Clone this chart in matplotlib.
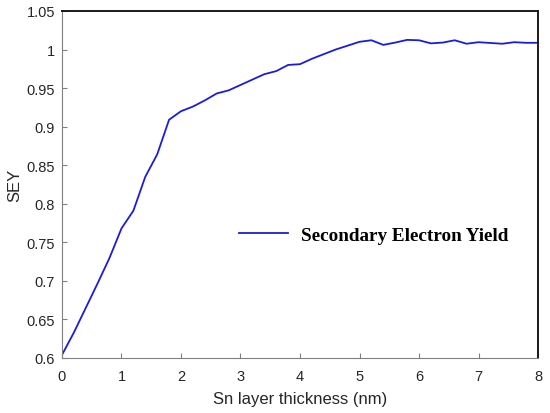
import matplotlib
matplotlib.use("Agg")
import matplotlib.pyplot as plt
import numpy as np

# Sn layer thickness (nm) and secondary electron yield
thickness = [0.0, 0.2, 0.4, 0.6, 0.8, 1.0, 1.2, 1.4, 1.6, 1.8,
             2.0, 2.2, 2.4, 2.6, 2.8, 3.0, 3.2, 3.4, 3.6, 3.8,
             4.0, 4.2, 4.4, 4.6, 4.8, 5.0, 5.2, 5.4, 5.6, 5.8,
             6.0, 6.2, 6.4, 6.6, 6.8, 7.0, 7.2, 7.4, 7.6, 7.8, 8.0]
sey = [0.604, 0.633, 0.665, 0.697, 0.730, 0.768, 0.791, 0.835, 0.864, 0.909,
       0.920, 0.926, 0.934, 0.943, 0.947, 0.954, 0.961, 0.968, 0.972, 0.980,
       0.981, 0.988, 0.994, 1.000, 1.005, 1.010, 1.012, 1.006, 1.009, 1.0125,
       1.012, 1.008, 1.009, 1.012, 1.0075, 1.0095, 1.0085, 1.0075, 1.0095, 1.0087, 1.0087]

x_ticks = [0, 1, 2, 3, 4, 5, 6, 7, 8]
y_ticks = [0.6, 0.65, 0.7, 0.75, 0.8, 0.85, 0.9, 0.95, 1.0, 1.05]
y_tick_labels = ["0.6", "0.65", "0.7", "0.75", "0.8", "0.85", "0.9", "0.95", "1", "1.05"]

plt.rcParams["font.family"] = ["Liberation Sans", "DejaVu Sans"]

fig = plt.figure(figsize=(5.5, 4.14), dpi=100)
ax = fig.add_axes([0.1127, 0.1329, 0.8655, 0.8382])

ax.plot(thickness, sey, color="#1c1cd8", linewidth=1.3, label="Secondary Electron Yield")

ax.set_xlim(0, 8)
ax.set_ylim(0.6, 1.05)
ax.set_xticks(x_ticks)
ax.set_yticks(y_ticks)
ax.set_yticklabels(y_tick_labels)

# MATLAB-like axes: gray left/bottom with inward ticks, black top/right box
for side in ["left", "bottom"]:
    ax.spines[side].set_color("#808080")
    ax.spines[side].set_linewidth(0.8)
for side in ["top", "right"]:
    ax.spines[side].set_color("#1a1a1a")
    ax.spines[side].set_linewidth(1.4)
ax.tick_params(direction="in", length=3.5, width=0.8, color="#808080",
               labelsize=10.5, labelcolor="#262626")
ax.tick_params(axis="x", pad=8)
ax.tick_params(axis="y", pad=5)

ax.set_xlabel("Sn layer thickness (nm)", fontsize=12, color="#262626", labelpad=6)
ax.set_ylabel("SEY", fontsize=12, color="#262626", labelpad=3)

leg = ax.legend(loc="center left", bbox_to_anchor=(0.372, 0.354), frameon=False,
                borderpad=0, borderaxespad=0, handlelength=2.55, handletextpad=0.7,
                prop={"family": "Liberation Serif", "weight": "bold", "size": 13.8})

fig.savefig("out.png", dpi=100)
